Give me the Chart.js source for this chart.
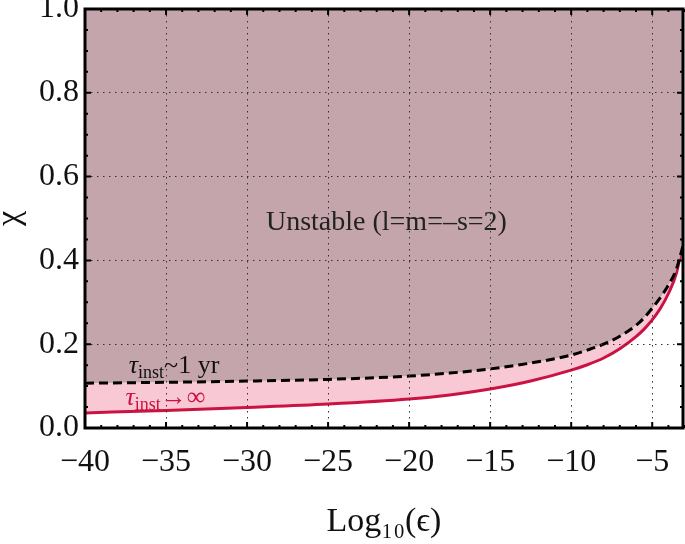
<!DOCTYPE html>
<html>
<head>
<meta charset="utf-8">
<script src="https://cdn.jsdelivr.net/npm/chart.js@4.4.1/dist/chart.umd.min.js"></script>
<style>
  html, body { margin: 0; padding: 0; background: #fff; }
  #wrap { width: 685px; height: 544px; }
</style>
</head>
<body>
<div id="wrap"><canvas id="chi"></canvas></div>
<script>
// log10(eps) sample points
const logEps = [-40, -35, -30, -25, -20, -17.5, -15, -12.5, -10, -9, -8, -7, -6, -5.5, -5, -4.5, -4, -3.5, -3.1];
// tau_inst ~ 1 yr (dashed black)
const chiOneYear = [0.107, 0.109, 0.112, 0.116, 0.124, 0.131, 0.141, 0.155, 0.174, 0.186, 0.200, 0.219, 0.245, 0.263, 0.286, 0.311, 0.341, 0.380, 0.435];
// tau_inst -> infinity (solid red)
const chiInfinity = [0.036, 0.042, 0.049, 0.057, 0.069, 0.079, 0.093, 0.112, 0.138, 0.151, 0.167, 0.189, 0.218, 0.236, 0.258, 0.285, 0.321, 0.370, 0.445];

const xTicks = [-40, -35, -30, -25, -20, -15, -10, -5];
const yTicks = [0, 0.2, 0.4, 0.6, 0.8, 1.0];

const mauve = '#c4a5ac';
const pink = '#f8c9d4';
const red = '#cc1242';
const serif = "'Liberation Serif', 'DejaVu Serif', serif";

const toPts = ys => logEps.map((x, i) => ({ x: x, y: ys[i] }));

// frame, inward minor/major ticks and the text labels
const framePlugin = {
    id: 'frame',
    afterDraw(chart) {
        const ctx = chart.ctx, a = chart.chartArea;
        const xs = chart.scales.x, ys = chart.scales.y;
        ctx.save();
        // labels
        ctx.fillStyle = '#222';
        ctx.font = "28px " + serif;
        ctx.textAlign = 'center';
        ctx.textBaseline = 'middle';
        ctx.fillText('Unstable (l=m=\u2013s=2)', xs.getPixelForValue(-21.4), ys.getPixelForValue(0.49));

        function tauLabel(x, y, rest, color) {
            let px = xs.getPixelForValue(x), py = ys.getPixelForValue(y);
            ctx.fillStyle = color;
            ctx.textAlign = 'left';
            ctx.textBaseline = 'alphabetic';
            ctx.font = "italic 26px " + serif;
            ctx.fillText('\u03c4', px, py);
            px += ctx.measureText('\u03c4').width;
            ctx.font = "18px " + serif;
            ctx.fillText('inst', px, py + 5);
            px += ctx.measureText('inst').width;
            ctx.font = "26px " + serif;
            ctx.fillText(rest, px, py);
        }
        tauLabel(-37.3, 0.131, '~1 yr', '#111');
        tauLabel(-37.5, 0.055, '\u2192\u221e', red);

        // ticks pointing inward
        ctx.strokeStyle = '#000';
        ctx.lineWidth = 2;
        ctx.beginPath();
        for (let v = -40; v <= -3; v++) {
            const p = xs.getPixelForValue(v);
            const len = v % 5 === 0 ? 6 : 3;
            ctx.moveTo(p, a.bottom); ctx.lineTo(p, a.bottom - len);
            ctx.moveTo(p, a.top); ctx.lineTo(p, a.top + len);
        }
        for (let k = 0; k <= 20; k++) {
            const p = ys.getPixelForValue(k * 0.05);
            const len = k % 4 === 0 ? 6 : 3;
            ctx.moveTo(a.left, p); ctx.lineTo(a.left + len, p);
            ctx.moveTo(a.right, p); ctx.lineTo(a.right - len, p);
        }
        ctx.stroke();
        ctx.lineWidth = 3;
        ctx.strokeRect(a.left, a.top, a.right - a.left, a.bottom - a.top);
        ctx.restore();
    }
};

const ctx = document.getElementById('chi').getContext('2d');
const chiChart = new Chart(ctx, {
    type: 'line',
    data: {
        datasets: [{
            label: 'tau ~ 1 yr',
            data: toPts(chiOneYear),
            borderColor: '#000',
            borderWidth: 3,
            borderDash: [9, 5],
            pointRadius: 0,
            cubicInterpolationMode: 'monotone',
            fill: 'end',
            backgroundColor: mauve
        }, {
            label: 'tau -> inf',
            data: toPts(chiInfinity),
            borderColor: red,
            borderWidth: 3,
            pointRadius: 0,
            cubicInterpolationMode: 'monotone',
            fill: '-1',
            backgroundColor: pink
        }]
    },
    options: {
        responsive: true,
        maintainAspectRatio: false,
        animation: false,
        layout: { padding: { top: 9, right: 2, left: 0, bottom: 0 } },
        plugins: {
            legend: { display: false },
            tooltip: { enabled: false }
        },
        scales: {
            x: {
                type: 'linear',
                min: -40,
                max: -3.1,
                afterBuildTicks: s => { s.ticks = xTicks.map(v => ({ value: v })); },
                afterFit: s => { s.height = 116; s.paddingLeft = 0; s.paddingRight = 0; },
                grid: { color: '#333', lineWidth: 1, drawTicks: false, z: 1 },
                border: { display: false, dash: [1.5, 4.5] },
                ticks: {
                    color: '#111',
                    padding: 15,
                    maxRotation: 0,
                    font: { family: serif, size: 32 },
                    callback: v => (v < 0 ? '\u2212' + Math.abs(v) : '' + v)
                },
                title: {
                    display: true,
                    text: 'Log\u2081\u2080(\u03f5)',
                    color: '#111',
                    font: { family: serif, size: 34 },
                    padding: { top: 0, bottom: 2 }
                }
            },
            y: {
                type: 'linear',
                min: 0,
                max: 1,
                afterBuildTicks: s => { s.ticks = yTicks.map(v => ({ value: v })); },
                afterFit: s => { s.width = 85; s.paddingTop = 0; s.paddingBottom = 0; },
                grid: { color: '#333', lineWidth: 1, drawTicks: false, z: 1 },
                border: { display: false, dash: [1.5, 4.5] },
                ticks: {
                    color: '#111',
                    padding: 6,
                    font: { family: serif, size: 32 },
                    callback: v => v.toFixed(1)
                },
                title: {
                    display: true,
                    text: '\u03c7',
                    color: '#111',
                    font: { family: serif, size: 34, lineHeight: 0.6 },
                    padding: 0
                }
            }
        }
    },
    plugins: [framePlugin]
});
</script>
</body>
</html>
